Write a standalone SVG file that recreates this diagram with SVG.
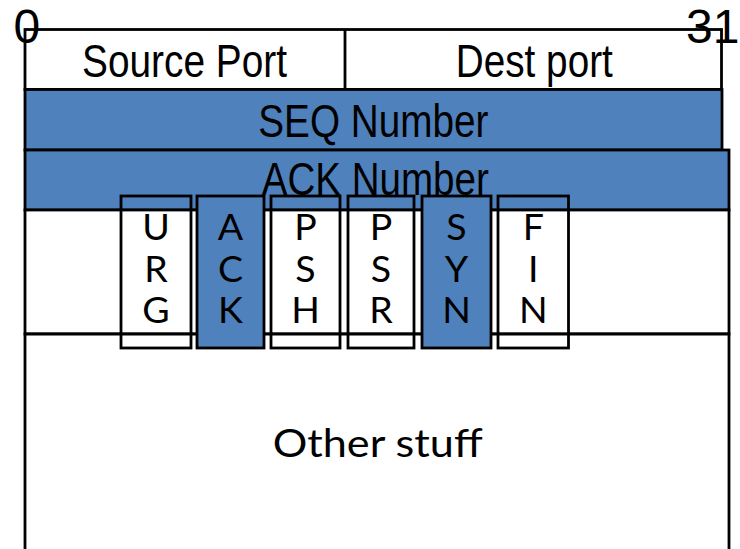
<svg xmlns="http://www.w3.org/2000/svg" width="740" height="549" viewBox="0 0 740 549">
  <style>
    .box { stroke: #000; stroke-width: 2.8; }
    .white { fill: #fff; }
    .blue { fill: #4F81BD; }
    .flag { fill: none; stroke: #000; stroke-width: 2.8; }
    .flag.set { fill: #4F81BD; }
    .hdr { font-family: "Liberation Sans", Arial, sans-serif; font-size: 46px; fill: #000; text-anchor: middle; }
    .bit { font-family: "Liberation Sans", Arial, sans-serif; font-size: 48px; fill: #000; }
    .cal { font-family: Lato, "Open Sans", sans-serif; fill: #000; text-anchor: middle; }
    .letters { font-size: 37.5px; }
  </style>

  <rect width="740" height="549" fill="#fff"/>

  <!-- header rows -->
  <g id="ports">
    <rect class="box white" x="25" y="29.5" width="696.5" height="60"/>
    <line class="box" x1="345" y1="29.5" x2="345" y2="89.5"/>
    <text class="hdr" x="184.5" y="77" textLength="205" lengthAdjust="spacingAndGlyphs">Source Port</text>
    <text class="hdr" x="534.3" y="77" textLength="157" lengthAdjust="spacingAndGlyphs">Dest port</text>
  </g>

  <g id="seq">
    <rect class="box blue" x="25" y="89.5" width="697" height="60.5"/>
    <text class="hdr" x="373.3" y="136.7" textLength="230" lengthAdjust="spacingAndGlyphs">SEQ Number</text>
  </g>

  <g id="ack">
    <rect class="box blue" x="25" y="150" width="704" height="60"/>
  </g>

  <g id="flag-row">
    <rect class="box white" x="25" y="210" width="704" height="124"/>
  </g>

  <g id="other">
    <path class="box white" d="M25 334 H729 V552 H25 Z"/>
    <text class="cal" x="377.7" y="457" font-size="38" textLength="210" lengthAdjust="spacingAndGlyphs">Other stuff</text>
  </g>

  <!-- control flag bits -->
  <g id="urg">
    <rect class="flag" x="121" y="196" width="70" height="152"/>
    <text class="cal letters" x="156"><tspan x="156" y="239.5">U</tspan><tspan x="156" y="281.7">R</tspan><tspan x="156" y="323.3">G</tspan></text>
  </g>
  <g id="ack-flag">
    <rect class="flag set" x="197" y="196" width="67" height="152"/>
    <text class="cal letters" x="230.5"><tspan x="230.5" y="239.5">A</tspan><tspan x="230.5" y="281.7">C</tspan><tspan x="230.5" y="323.3">K</tspan></text>
  </g>
  <g id="psh">
    <rect class="flag" x="271" y="196" width="69" height="152"/>
    <text class="cal letters" x="305.5"><tspan x="305.5" y="239.5">P</tspan><tspan x="305.5" y="281.7">S</tspan><tspan x="305.5" y="323.3">H</tspan></text>
  </g>
  <g id="psr">
    <rect class="flag" x="348" y="196" width="66" height="152"/>
    <text class="cal letters" x="381"><tspan x="381" y="239.5">P</tspan><tspan x="381" y="281.7">S</tspan><tspan x="381" y="323.3">R</tspan></text>
  </g>
  <g id="syn">
    <rect class="flag set" x="422" y="196" width="69" height="152"/>
    <text class="cal letters" x="456.5"><tspan x="456.5" y="239.5">S</tspan><tspan x="456.5" y="281.7">Y</tspan><tspan x="456.5" y="323.3">N</tspan></text>
  </g>
  <g id="fin">
    <rect class="flag" x="498" y="196" width="70.5" height="152"/>
    <text class="cal letters" x="533.3"><tspan x="533.3" y="239.5">F</tspan><tspan x="533.3" y="281.7">I</tspan><tspan x="533.3" y="323.3">N</tspan></text>
  </g>

  <!-- labels drawn over the flag outlines -->
  <g id="ack-label">
    <text class="hdr" x="375.3" y="195" textLength="227" lengthAdjust="spacingAndGlyphs">ACK Number</text>
  </g>

  <!-- bit positions -->
  <g id="bit-range">
    <text class="bit" x="13.5" y="43">0</text>
    <text class="bit" x="686" y="43">31</text>
  </g>

  <g id="connectors"/>
</svg>
